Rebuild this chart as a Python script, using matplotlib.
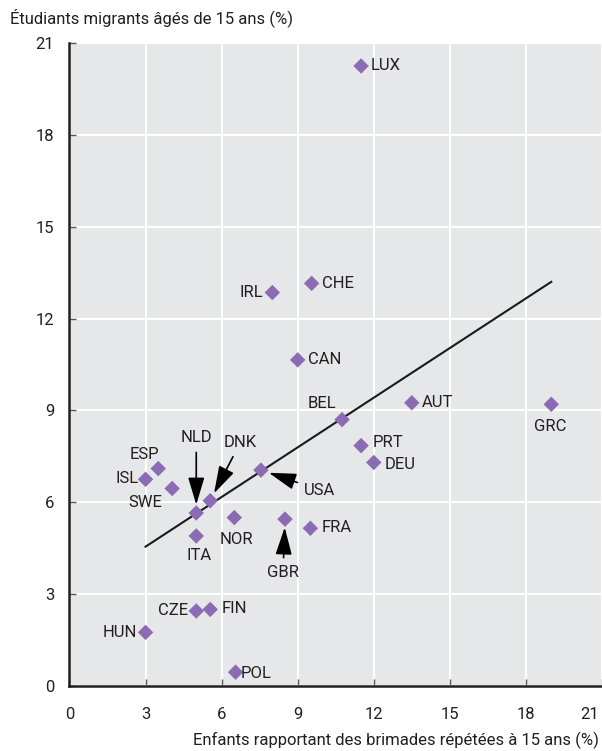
import numpy as np
import matplotlib.pyplot as plt
from matplotlib.transforms import ScaledTranslation

plt.rcParams['font.family'] = ['Roboto', 'DejaVu Sans']

# data
countries = ['LUX', 'CHE', 'IRL', 'CAN', 'AUT', 'GRC', 'BEL', 'PRT', 'DEU', 'USA',
             'ESP', 'ISL', 'SWE', 'DNK', 'NLD', 'NOR', 'GBR', 'FRA', 'ITA', 'CZE',
             'FIN', 'HUN', 'POL']
bullying = [11.5, 9.55, 8.0, 9.0, 13.5, 19.0, 10.75, 11.5, 12.0, 7.55,
            3.5, 3.0, 4.05, 5.55, 5.0, 6.5, 8.5, 9.5, 5.0, 5.0,
            5.55, 3.0, 6.55]
migrants = [20.25, 13.15, 12.85, 10.65, 9.25, 9.2, 8.7, 7.85, 7.3, 7.05,
            7.1, 6.75, 6.45, 6.05, 5.65, 5.5, 5.45, 5.15, 4.9, 2.45,
            2.5, 1.75, 0.45]
trend_x = [3.0, 19.0]
trend_y = [4.55, 13.2]

ticks = [0, 3, 6, 9, 12, 15, 18, 21]

# label placement (offset in pixels, alignment, arrow?)
lab = {
    'LUX': (10, 0, 'left', False), 'CHE': (10, 0, 'left', False),
    'IRL': (-9, 0, 'right', False), 'CAN': (10, 0, 'left', False),
    'AUT': (10, 0, 'left', False), 'GRC': (-1, -22, 'center', False),
    'BEL': (-20, 16, 'center', False), 'PRT': (12, 3, 'left', False),
    'DEU': (11, -2, 'left', False), 'USA': (59, -20, 'center', True),
    'ESP': (-14, 14, 'center', False), 'ISL': (-7, 1, 'right', False),
    'SWE': (-27, -14, 'center', False), 'DNK': (30, 58, 'center', True),
    'NLD': (0, 75, 'center', True), 'NOR': (2, -22, 'center', False),
    'GBR': (-2, -53, 'center', True), 'FRA': (11, 1, 'left', False),
    'ITA': (3, -20, 'center', False), 'CZE': (-8, 0, 'right', False),
    'FIN': (11, 1, 'left', False), 'HUN': (-9, 0, 'right', False),
    'POL': (5, -1, 'left', False),
}

fig = plt.figure(figsize=(6.02, 7.51), dpi=100)
ax = fig.add_axes([0.1154, 0.0866, 0.8846, 0.8561])
ax.set_facecolor('#e6e7e8')

ax.plot(trend_x, trend_y, color='#1a1a1a', lw=1.5, zorder=2)
ax.scatter(bullying, migrants, marker='D', s=62, color='#8c6bb5',
           edgecolors='none', zorder=3)

for c, x, y in zip(countries, bullying, migrants):
    dx, dy, ha, arr = lab[c]
    if arr:
        ax.annotate(c, (x, y), xytext=(dx, dy), textcoords='offset pixels',
                    ha=ha, va='center', fontsize=12, color='#231f20',
                    arrowprops=dict(arrowstyle='-|>,head_length=1.4,head_width=0.42',
                                    mutation_scale=12, color='black', lw=1.2,
                                    shrinkA=3, shrinkB=6))
    else:
        ax.annotate(c, (x, y), xytext=(dx, dy), textcoords='offset pixels',
                    ha=ha, va='center', fontsize=12, color='#231f20')

ax.set_xlim(0, 21)
ax.set_ylim(0, 21)
ax.set_xticks(ticks)
ax.set_yticks(ticks)
ax.grid(True, color='white', lw=1.5)
ax.set_axisbelow(True)
for s in ['top', 'right']:
    ax.spines[s].set_visible(False)
for s in ['left', 'bottom']:
    ax.spines[s].set_color('#231f20')
    ax.spines[s].set_linewidth(1.8)
ax.tick_params(axis='both', direction='in', length=5, width=1, color='#555555',
               labelsize=12, labelcolor='#231f20')
ax.tick_params(axis='x', pad=15)
ax.tick_params(axis='y', pad=11)

# keep the last x tick label inside the figure
last = ax.get_xticklabels()[-1]
last.set_ha('right')
last.set_transform(last.get_transform() + ScaledTranslation(-3 / 100, 0, fig.dpi_scale_trans))

fig.text(10 / 602, 1 - 18 / 751, 'Étudiants migrants âgés de 15 ans (%)',
         fontsize=12, va='center', ha='left', color='#231f20')
fig.text(599 / 602, 1 - 740 / 751, 'Enfants rapportant des brimades répétées à 15 ans (%)',
         fontsize=12, va='center', ha='right', color='#231f20')

fig.savefig('out.png', dpi=100)
